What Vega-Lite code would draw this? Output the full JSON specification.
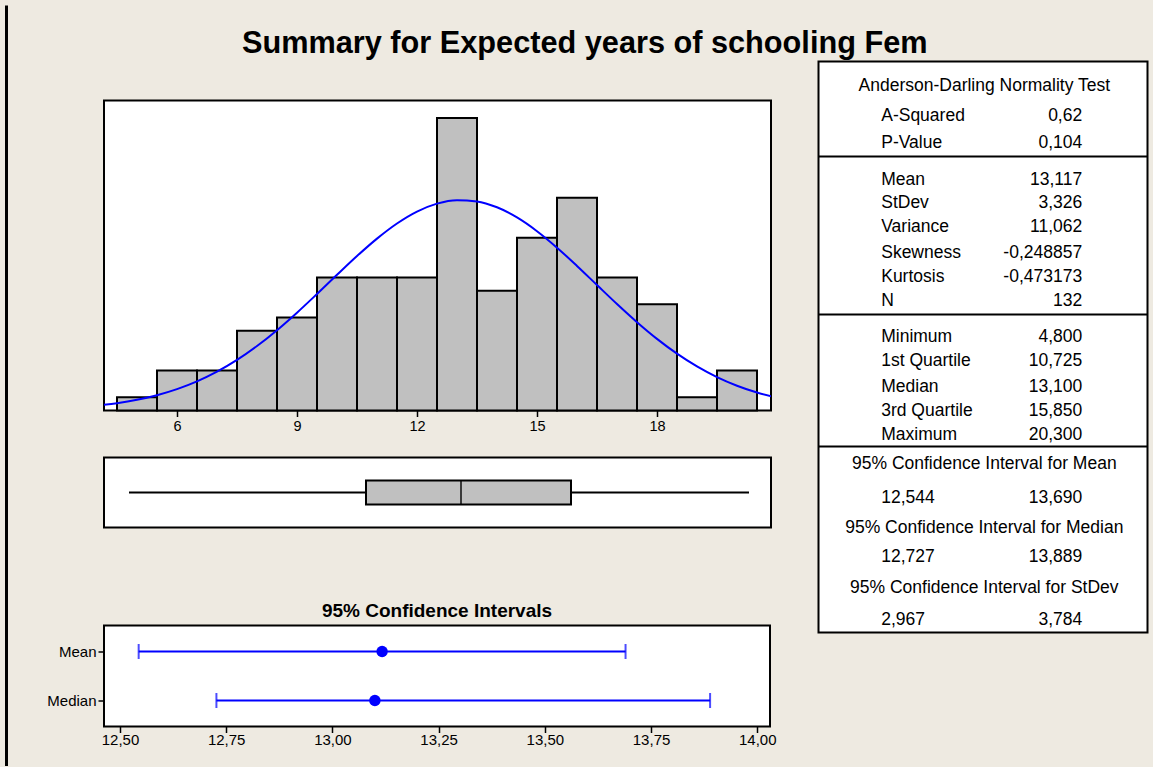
{
  "$schema": "https://vega.github.io/schema/vega-lite/v6.json",
  "background": "#EEEAE1",
  "padding": {"left": 4.5, "top": 3.5, "right": 5, "bottom": 0},
  "autosize": {"type": "pad"},
  "title": {
    "text": "Summary for Expected years of schooling Fem",
    "fontSize": 30.7,
    "fontWeight": "bold",
    "font": "Liberation Sans",
    "color": "black",
    "anchor": "middle",
    "baseline": "alphabetic",
    "dx": 8,
    "offset": -80.2
  },
  "datasets": {
    "hist": [
      {"bin_start": 4.5, "bin_end": 5.5, "count": 1},
      {"bin_start": 5.5, "bin_end": 6.5, "count": 3},
      {"bin_start": 6.5, "bin_end": 7.5, "count": 3},
      {"bin_start": 7.5, "bin_end": 8.5, "count": 6},
      {"bin_start": 8.5, "bin_end": 9.5, "count": 7},
      {"bin_start": 9.5, "bin_end": 10.5, "count": 10},
      {"bin_start": 10.5, "bin_end": 11.5, "count": 10},
      {"bin_start": 11.5, "bin_end": 12.5, "count": 10},
      {"bin_start": 12.5, "bin_end": 13.5, "count": 22},
      {"bin_start": 13.5, "bin_end": 14.5, "count": 9},
      {"bin_start": 14.5, "bin_end": 15.5, "count": 13},
      {"bin_start": 15.5, "bin_end": 16.5, "count": 16},
      {"bin_start": 16.5, "bin_end": 17.5, "count": 10},
      {"bin_start": 17.5, "bin_end": 18.5, "count": 8},
      {"bin_start": 18.5, "bin_end": 19.5, "count": 1},
      {"bin_start": 19.5, "bin_end": 20.5, "count": 3}
    ],
    "curve": [
      {"x": 4.0, "density": 0.370}, {"x": 4.5, "density": 0.552}, {"x": 5.0, "density": 0.806},
      {"x": 5.5, "density": 1.150}, {"x": 6.0, "density": 1.605}, {"x": 6.5, "density": 2.188},
      {"x": 7.0, "density": 2.918}, {"x": 7.5, "density": 3.804}, {"x": 8.0, "density": 4.849},
      {"x": 8.5, "density": 6.042}, {"x": 9.0, "density": 7.360}, {"x": 9.5, "density": 8.766},
      {"x": 10.0, "density": 10.206}, {"x": 10.5, "density": 11.619}, {"x": 11.0, "density": 12.931},
      {"x": 11.5, "density": 14.069}, {"x": 12.0, "density": 14.966}, {"x": 12.5, "density": 15.564},
      {"x": 13.0, "density": 15.824}, {"x": 13.5, "density": 15.729}, {"x": 14.0, "density": 15.286},
      {"x": 14.5, "density": 14.523}, {"x": 15.0, "density": 13.489}, {"x": 15.5, "density": 12.250},
      {"x": 16.0, "density": 10.875}, {"x": 16.5, "density": 9.440}, {"x": 17.0, "density": 8.010},
      {"x": 17.5, "density": 6.645}, {"x": 18.0, "density": 5.390}, {"x": 18.5, "density": 4.274},
      {"x": 19.0, "density": 3.313}, {"x": 19.5, "density": 2.511}, {"x": 20.0, "density": 1.861},
      {"x": 20.5, "density": 1.348}, {"x": 21.0, "density": 0.954}
    ],
    "box": [
      {"series": "Expected years of schooling Fem", "min": 4.8, "q1": 10.725, "median": 13.1, "q3": 15.85, "max": 20.3}
    ],
    "ci": [
      {"stat": "Mean", "estimate": 13.117, "lower": 12.544, "upper": 13.690},
      {"stat": "Median", "estimate": 13.1, "lower": 12.727, "upper": 13.889}
    ],
    "stats": [
      {"header": "Anderson-Darling Normality Test", "row": 1.04},
      {"label": "A-Squared", "value": "0,62", "row": 2.29},
      {"label": "P-Value", "value": "0,104", "row": 3.38},
      {"label": "Mean", "value": "13,117", "row": 4.92},
      {"label": "StDev", "value": "3,326", "row": 5.88},
      {"label": "Variance", "value": "11,062", "row": 6.88},
      {"label": "Skewness", "value": "-0,248857", "row": 7.96},
      {"label": "Kurtosis", "value": "-0,473173", "row": 8.96},
      {"label": "N", "value": "132", "row": 9.96},
      {"label": "Minimum", "value": "4,800", "row": 11.46},
      {"label": "1st Quartile", "value": "10,725", "row": 12.46},
      {"label": "Median", "value": "13,100", "row": 13.58},
      {"label": "3rd Quartile", "value": "15,850", "row": 14.58},
      {"label": "Maximum", "value": "20,300", "row": 15.58},
      {"header": "95% Confidence Interval for Mean", "row": 16.79},
      {"label": "12,544", "value": "13,690", "row": 18.17},
      {"header": "95% Confidence Interval for Median", "row": 19.42},
      {"label": "12,727", "value": "13,889", "row": 20.63},
      {"header": "95% Confidence Interval for StDev", "row": 21.92},
      {"label": "2,967", "value": "3,784", "row": 23.29}
    ],
    "dividers": [{"row": 3.96}, {"row": 10.54}, {"row": 16.04}],
    "frame": [{"top": 0, "bottom": 23.79}]
  },
  "hconcat": [
    {
      "width": 1,
      "height": 310,
      "view": {"stroke": null, "fill": null},
      "data": {"values": [{"side": "left"}]},
      "mark": {"type": "rule", "color": "black", "strokeWidth": 3},
      "encoding": {
        "x": {"datum": 0, "type": "quantitative", "scale": {"domain": [0, 1], "nice": false}, "axis": null},
        "y": {"datum": 30.47, "type": "quantitative", "scale": {"domain": [0, 23.32], "nice": false, "zero": false}, "axis": null},
        "y2": {"datum": -26.75}
      }
    },
    {
      "vconcat": [
        {
          "width": 667,
          "height": 310,
          "layer": [
            {
              "data": {"name": "hist"},
              "mark": {"type": "rect", "fill": "#C0C0C0", "stroke": "black", "strokeWidth": 2},
              "encoding": {
                "x": {
                  "field": "bin_start", "type": "quantitative",
                  "scale": {"domain": [4.175, 20.85], "nice": false, "zero": false},
                  "axis": {"values": [6, 9, 12, 15, 18], "title": null, "tickSize": 6, "labelPadding": 3, "labelFontSize": 14.5}
                },
                "x2": {"field": "bin_end"},
                "y": {
                  "field": "count", "type": "quantitative",
                  "scale": {"domain": [0, 23.32], "nice": false, "zero": true},
                  "axis": {"title": null, "labels": false, "ticks": false, "domain": false, "grid": false, "minExtent": 59, "maxExtent": 59}
                },
                "y2": {"datum": 0}
              }
            },
            {
              "data": {"name": "curve"},
              "mark": {"type": "line", "color": "#0000FF", "strokeWidth": 2, "clip": true, "interpolate": "monotone"},
              "encoding": {
                "x": {"field": "x", "type": "quantitative"},
                "y": {"field": "density", "type": "quantitative"}
              }
            }
          ]
        },
        {
          "width": 667,
          "height": 70,
          "data": {"name": "box"},
          "encoding": {
            "y": {
              "field": "series", "type": "nominal",
              "scale": {"paddingInner": 0, "paddingOuter": 0},
              "axis": {"orient": "right", "title": null, "labels": false, "ticks": false, "domain": false, "grid": false, "minExtent": 9.5, "maxExtent": 9.5}
            }
          },
          "layer": [
            {
              "mark": {"type": "rule", "color": "black", "strokeWidth": 2},
              "encoding": {
                "x": {
                  "field": "min", "type": "quantitative",
                  "scale": {"domain": [4.175, 20.85], "nice": false, "zero": false},
                  "axis": {"title": null, "labels": false, "ticks": false, "domain": false, "grid": false, "minExtent": 50, "maxExtent": 50}
                },
                "x2": {"field": "max"}
              }
            },
            {
              "mark": {"type": "bar", "fill": "#C0C0C0", "stroke": "black", "strokeWidth": 2, "size": 24},
              "encoding": {
                "x": {"field": "q1", "type": "quantitative"},
                "x2": {"field": "q3"}
              }
            },
            {
              "mark": {"type": "tick", "color": "black", "size": 24, "thickness": 2},
              "encoding": {
                "x": {"field": "median", "type": "quantitative"}
              }
            }
          ]
        },
        {
          "width": 666,
          "height": 101,
          "title": {"text": "95% Confidence Intervals", "fontSize": 19, "fontWeight": "bold", "anchor": "middle", "baseline": "alphabetic", "offset": -10, "font": "Liberation Sans", "color": "black"},
          "data": {"name": "ci"},
          "encoding": {
            "y": {
              "field": "stat", "type": "nominal",
              "scale": {"type": "point", "padding": 0.53},
              "axis": {"title": null, "tickSize": 6, "labelPadding": 2, "labelFontSize": 15, "minExtent": 59, "maxExtent": 59}
            }
          },
          "layer": [
            {
              "mark": {"type": "rule", "color": "#0000FF", "strokeWidth": 2},
              "encoding": {
                "x": {
                  "field": "lower", "type": "quantitative",
                  "scale": {"domain": [12.4624, 14.03], "nice": false, "zero": false},
                  "axis": {"title": null, "values": [12.5, 12.75, 13.0, 13.25, 13.5, 13.75, 14.0], "labelExpr": "replace(format(datum.value, '.2f'), '.', ',')", "tickSize": 6, "labelPadding": 0, "labelFontSize": 15}
                },
                "x2": {"field": "upper"}
              }
            },
            {
              "mark": {"type": "tick", "color": "#0000FF", "size": 15, "thickness": 2},
              "encoding": {"x": {"field": "lower", "type": "quantitative"}}
            },
            {
              "mark": {"type": "tick", "color": "#0000FF", "size": 15, "thickness": 2},
              "encoding": {"x": {"field": "upper", "type": "quantitative"}}
            },
            {
              "mark": {"type": "point", "filled": true, "color": "#0000FF", "size": 130, "opacity": 1},
              "encoding": {"x": {"field": "estimate", "type": "quantitative"}}
            }
          ]
        }
      ],
      "spacing": 22
    },
    {
      "width": 329,
      "height": 532,
      "view": {"stroke": null, "fill": null},
      "layer": [
        {
          "data": {"name": "frame"},
          "mark": {"type": "rect", "fill": "white", "stroke": "black", "strokeWidth": 2},
          "encoding": {
            "y": {"field": "top", "type": "quantitative", "scale": {"domain": [1.625, 23.79], "reverse": true, "nice": false, "zero": false}, "axis": null},
            "y2": {"field": "bottom"},
            "x": {"datum": 0, "type": "quantitative", "scale": {"domain": [0, 1], "nice": false}, "axis": null},
            "x2": {"datum": 1}
          }
        },
        {
          "data": {"name": "dividers"},
          "mark": {"type": "rule", "color": "black", "strokeWidth": 2},
          "encoding": {
            "y": {"field": "row", "type": "quantitative"},
            "x": {"datum": 0, "type": "quantitative"},
            "x2": {"datum": 1}
          }
        },
        {
          "data": {"name": "stats"},
          "transform": [{"filter": "datum.label != null"}],
          "mark": {"type": "text", "align": "left", "baseline": "middle", "fontSize": 17.5, "font": "Liberation Sans", "color": "black"},
          "encoding": {
            "y": {"field": "row", "type": "quantitative"},
            "x": {"datum": 0.1906, "type": "quantitative"},
            "text": {"field": "label"}
          }
        },
        {
          "data": {"name": "stats"},
          "transform": [{"filter": "datum.value != null"}],
          "mark": {"type": "text", "align": "right", "baseline": "middle", "fontSize": 17.5, "font": "Liberation Sans", "color": "black"},
          "encoding": {
            "y": {"field": "row", "type": "quantitative"},
            "x": {"datum": 0.8015, "type": "quantitative"},
            "text": {"field": "value"}
          }
        },
        {
          "data": {"name": "stats"},
          "transform": [{"filter": "datum.header != null"}],
          "mark": {"type": "text", "align": "center", "baseline": "middle", "fontSize": 17.5, "font": "Liberation Sans", "color": "black"},
          "encoding": {
            "y": {"field": "row", "type": "quantitative"},
            "x": {"datum": 0.504, "type": "quantitative"},
            "text": {"field": "header"}
          }
        }
      ]
    }
  ],
  "spacing": 35.5,
  "config": {
    "font": "Liberation Sans",
    "view": {"stroke": "black", "strokeWidth": 2, "fill": "white"},
    "axis": {"labelFont": "Liberation Sans", "labelColor": "black", "tickColor": "black", "tickWidth": 1.5, "domain": false, "grid": false, "labelFontSize": 14},
    "title": {"font": "Liberation Sans", "color": "black"}
  }
}
